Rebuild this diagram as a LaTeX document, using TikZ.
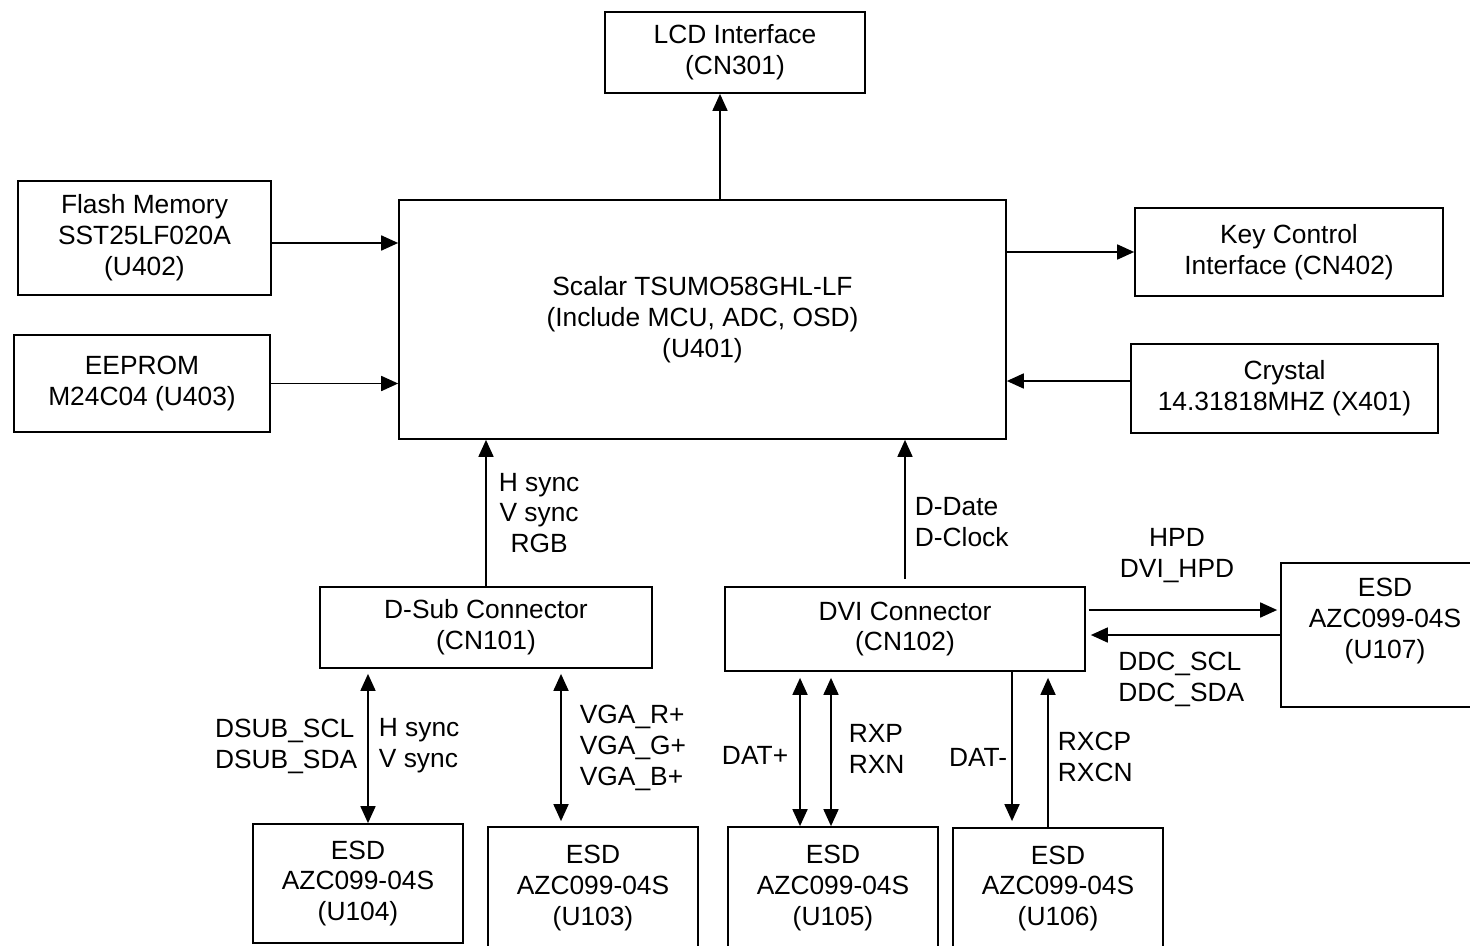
\documentclass[tikz,border=0pt]{standalone}
\usepackage{fontspec}
\setmainfont{Liberation Sans}
\usetikzlibrary{arrows.meta}

\tikzset{
  blk/.style={draw, line width=1pt, align=center, inner sep=0pt},
  sig/.style={inner sep=0pt, align=left},
  >={Triangle[length=0.34cm,width=0.3cm]}
}

\begin{document}
\begin{tikzpicture}[x=0.02cm, y=-0.02cm, line width=1pt,
    every node/.style={font=\fontsize{15pt}{17.6pt}\selectfont}]
	\useasboundingbox (0,0) rectangle (1470,946);

	\node[blk, minimum width=12.14cm, minimum height=4.78cm] at (702.5,319.5)(scalar){Scalar TSUMO58GHL-LF\\(Include MCU, ADC, OSD)\\(U401)};
	\node[blk, minimum width=5.2cm, minimum height=1.62cm] at (735,52.5)(lcd){LCD Interface\\(CN301)};
	\node[blk, minimum width=5.06cm, minimum height=2.28cm] at (144.5,238)(flash){Flash Memory\\SST25LF020A\\(U402)};
	\node[blk, minimum width=5.12cm, minimum height=1.94cm] at (142,383.5)(eeprom){EEPROM\\M24C04 (U403)};
	\node[blk, minimum width=6.16cm, minimum height=1.76cm] at (1289,252)(key){Key Control\\Interface (CN402)};
	\node[blk, minimum width=6.14cm, minimum height=1.78cm] at (1284.5,388.5)(crystal){Crystal\\14.31818MHZ (X401)};
	\node[blk, minimum width=6.64cm, minimum height=1.62cm] at (486,627.5)(dsub){D-Sub Connector\\(CN101)};
	\node[blk, minimum width=7.2cm, minimum height=1.68cm] at (905,629)(dvi){DVI Connector\\(CN102)};
	\node[blk, minimum width=4.16cm, minimum height=2.88cm] at (1385,635)(u107){ESD\\AZC099-04S\\(U107)\\[1pt]\mbox{}};
	\node[blk, minimum width=4.2cm, minimum height=2.38cm] at (358,883.5)(u104){ESD\\AZC099-04S\\(U104)};
	\node[blk, minimum width=4.2cm, minimum height=2.44cm] at (593,888)(u103){ESD\\AZC099-04S\\(U103)};
	\node[blk, minimum width=4.2cm, minimum height=2.44cm] at (833,888)(u105){ESD\\AZC099-04S\\(U105)};
	\node[blk, minimum width=4.2cm, minimum height=2.42cm] at (1058,888.5)(u106){ESD\\AZC099-04S\\(U106)};

	\draw[->] ([xshift=0.35cm]scalar.north) -- ([xshift=0.35cm]scalar.north |- lcd.south);
	\draw[->] ([yshift=-0.1cm]flash.east) -- ([yshift=-0.1cm]flash.east -| scalar.west);
	\draw[->] (eeprom.east) -- (eeprom.east -| scalar.west);
	\draw[->] (scalar.east |- key.west) -- (key.west);
	\draw[->] ([yshift=0.15cm]crystal.west) -- ([yshift=0.15cm]crystal.west -| scalar.east);

	\draw[->] (dsub.north) -- node[sig, align=center, right=0.24cm]{H sync\\V sync\\RGB} (dsub.north |- scalar.south);
	\draw[->, shorten <=0.14cm] (dvi.north) -- node[sig, pos=0.44, right=0.18cm]{D-Date\\D-Clock} (dvi.north |- scalar.south);

	\draw[<->, shorten >=0.1cm] ([xshift=0.2cm]u104.north) -- node[sig, left=0.2cm]{DSUB\_SCL\\DSUB\_SDA} node[sig, right=0.2cm]{H sync\\V sync} ([xshift=0.2cm]u104.north |- dsub.south);
	\draw[<->, shorten >=0.1cm, shorten <=0.1cm] ([xshift=-0.64cm]u103.north) -- node[sig, right=0.36cm]{VGA\_R+\\VGA\_G+\\VGA\_B+} ([xshift=-0.64cm]u103.north |- dsub.south);
	\draw[<->, shorten >=0.12cm] ([xshift=-0.66cm]u105.north) -- node[sig, pos=0.46, left=0.22cm]{DAT+} ([xshift=-0.66cm]u105.north |- dvi.south);
	\draw[<->, shorten >=0.12cm] ([xshift=-0.04cm]u105.north) -- node[sig, right=0.34cm]{RXP\\RXN} ([xshift=-0.04cm]u105.north |- dvi.south);
	\draw[->, shorten >=0.12cm] ([xshift=-0.92cm]u106.north |- dvi.south) -- node[sig, pos=0.55, left=0.08cm]{DAT-} ([xshift=-0.92cm]u106.north);
	\draw[->, shorten >=0.12cm] ([xshift=-0.2cm]u106.north) -- node[sig, pos=0.455, right=0.18cm]{RXCP\\RXCN} ([xshift=-0.2cm]u106.north |- dvi.south);

	\draw[->, shorten <=0.06cm, shorten >=0.06cm] ([yshift=0.5cm]u107.west -| dvi.east) -- node[sig, align=center, above=0.52cm, xshift=-0.12cm]{HPD\\DVI\_HPD} ([yshift=0.5cm]u107.west);
	\draw[->, shorten >=0.1cm] (u107.west) -- node[sig, pos=0.837, anchor=north west, yshift=-0.33cm]{DDC\_SCL\\DDC\_SDA} (u107.west -| dvi.east);
\end{tikzpicture}
\end{document}
